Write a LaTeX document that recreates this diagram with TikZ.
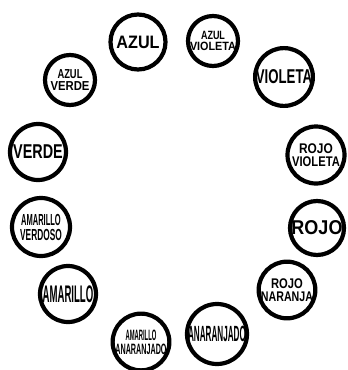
\documentclass[tikz,border=0pt]{standalone}
\usepackage{fontspec}
\usepackage{graphicx}
\setmainfont{Liberation Sans}
\usetikzlibrary{positioning}
\newcommand{\squeeze}[2]{\scalebox{#1}[1]{#2}}
\tikzstyle{ring} = [circle, draw=black, line width=4.2pt, inner sep=0pt, minimum size=55pt, align=center, font=\bfseries]
\tikzstyle{big} = [font=\bfseries\fontsize{18}{18}\selectfont]
\tikzstyle{small} = [font=\bfseries\fontsize{12}{12}\selectfont]

\begin{document}
\begin{tikzpicture}[x=1pt, y=-1pt]
    \useasboundingbox (0,0) rectangle (348,370);

    % Top
    \node[ring, big] (azul) at (138,42) {\squeeze{0.9}{AZUL}};
    \node[ring, small, minimum size=50pt] (azulvio) at (213,41) {\squeeze{0.75}{AZUL}\\[-1pt]\squeeze{0.9}{VIOLETA}};
    \node[ring, big, minimum size=57pt, font=\bfseries\fontsize{20}{20}\selectfont] (violeta) at (284,77) {\squeeze{0.66}{VIOLETA}};

    % Right side
    \node[ring, small, minimum size=57pt, font=\bfseries\fontsize{14}{14}\selectfont] (rojovio) at (316,155) {\squeeze{0.85}{ROJO}\\[-1pt]\squeeze{0.8}{VIOLETA}};
    \node[ring, big, minimum size=54pt, font=\bfseries\fontsize{20}{20}\selectfont] (rojo) at (317,228) {\squeeze{0.9}{ROJO}};
    \node[ring, small, minimum size=56pt, font=\bfseries\fontsize{14}{14}\selectfont] (rojonar) at (287,290) {\squeeze{0.8}{ROJO}\\[-1pt]\squeeze{0.76}{NARANJA}};

    % Bottom
    \node[ring, big, minimum size=60pt, font=\bfseries\fontsize{22}{22}\selectfont] (anaranjado) at (217,334) {\squeeze{0.37}{ANARANJADO}};
    \node[ring, small, minimum size=52pt, font=\bfseries\fontsize{15}{15}\selectfont] (amaran) at (141,342) {\squeeze{0.39}{AMARILLO}\\[-1pt]\squeeze{0.48}{ANARANJADO}};
    \node[ring, big, minimum size=56pt, font=\bfseries\fontsize{24}{24}\selectfont] (amarillo) at (68,294) {\squeeze{0.4}{AMARILLO}};

    % Left side
    \node[ring, small, minimum size=58pt, font=\bfseries\fontsize{16}{16}\selectfont] (amaver) at (41,227) {\squeeze{0.47}{AMARILLO}\\[-1pt]\squeeze{0.52}{VERDOSO}};
    \node[ring, big, minimum size=56pt, font=\bfseries\fontsize{20}{20}\selectfont] (verde) at (38,152) {\squeeze{0.72}{VERDE}};
    \node[ring, small, minimum size=50pt, font=\bfseries\fontsize{13}{13}\selectfont] (azulverde) at (70,80) {\squeeze{0.72}{AZUL}\\[-1pt]\squeeze{0.87}{VERDE}};
\end{tikzpicture}
\end{document}
